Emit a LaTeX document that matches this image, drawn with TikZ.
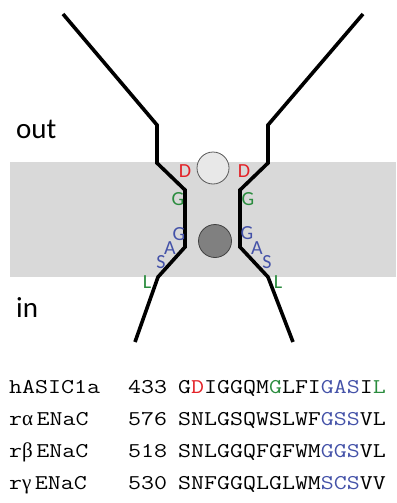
\documentclass[tikz,border=0pt]{standalone}
\usepackage{fontspec}
\setmainfont{Carlito}
\newfontfamily\seqfont[FakeStretch=1.2]{Latin Modern Mono}
\newfontfamily\greekfont{Liberation Serif}
\definecolor{resD}{HTML}{E32228}
\definecolor{resG}{HTML}{2A8C3E}
\definecolor{resB}{HTML}{4452A8}
\definecolor{membrane}{HTML}{D9D9D9}
\tikzset{
  wall/.style={line width=3.6pt, line join=miter},
  res/.style={inner sep=0pt, font=\fontsize{20}{20}\selectfont},
  side/.style={inner sep=0pt, anchor=base west, font=\fontsize{29}{29}\selectfont},
  seq/.style={inner sep=0pt, anchor=base west, font=\seqfont\fontsize{21}{21}\selectfont},
}
\newcommand{\gk}[1]{{\greekfont\fontsize{21}{21}\selectfont #1}}
\begin{document}
\begin{tikzpicture}[x=1pt,y=-1pt]
  \useasboundingbox (0,0) rectangle (396,503);
  % membrane
  \fill[membrane] (10,162) rectangle (396,277);
  % pore walls
  \coordinate (L0) at (63,14);
  \coordinate (L1) at (157,125);
  \coordinate (L2) at (157,163);
  \coordinate (L3) at (185,190);
  \coordinate (L4) at (185,247);
  \coordinate (L5) at (158,277);
  \coordinate (L6) at (135,342);
  \coordinate (R0) at (363,14);
  \coordinate (R1) at (268,125);
  \coordinate (R2) at (268,163);
  \coordinate (R3) at (240,190);
  \coordinate (R4) at (240,247);
  \coordinate (R5) at (268,277);
  \coordinate (R6) at (293,342);
  \draw[wall] (L0) -- (L1) -- (L2) -- (L3) -- (L4) -- (L5) -- (L6);
  \draw[wall] (R0) -- (R1) -- (R2) -- (R3) -- (R4) -- (R5) -- (R6);
  % ions
  \node (ionA) at (213,168) [circle, minimum size=32pt, inner sep=0pt, fill=black!9, draw=black!65, line width=0.8pt] {};
  \node (ionB) at (215,241) [circle, minimum size=33pt, inner sep=0pt, fill=black!50, draw=black!75, line width=0.8pt] {};
  % residues, left wall
  \node[res, text=resD] (lD) at (185,171) {D};
  \node[res, text=resG] (lG1) at (178,199) {G};
  \node[res, text=resB] (lG2) at (179,234) {G};
  \node[res, text=resB] (lA) at (170,248) {A};
  \node[res, text=resB] (lS) at (161,262) {S};
  \node[res, text=resG] (lL) at (147,282) {L};
  % residues, right wall
  \node[res, text=resD] (rD) at (244,171) {D};
  \node[res, text=resG] (rG1) at (248,199) {G};
  \node[res, text=resB] (rG2) at (247,233) {G};
  \node[res, text=resB] (rA) at (257,248) {A};
  \node[res, text=resB] (rS) at (267,262) {S};
  \node[res, text=resG] (rL) at (278,282) {L};
  % sides
  \node[side] (out) at (16,138) {out};
  \node[side] (in) at (16,317) {in};
  % alignment
  \node[seq] (N1) at (9,393) {hASIC1a};
  \node[seq] (P1) at (128,393) {433};
  \node[seq] (S1) at (178,393) {G\textcolor{resD}{D}IGGQM\textcolor{resG}{G}LFI\textcolor{resB}{GAS}I\textcolor{resG}{L}};
  \node[seq] (N2) at (9,425) {r\gk{α}\,ENaC};
  \node[seq] (P2) at (128,425) {576};
  \node[seq] (S2) at (178,425) {SNLGSQWSLWF\textcolor{resB}{GSS}VL};
  \node[seq] (N3) at (9,457) {r\gk{β}\,ENaC};
  \node[seq] (P3) at (128,457) {518};
  \node[seq] (S3) at (178,457) {SNLGGQFGFWM\textcolor{resB}{GGS}VL};
  \node[seq] (N4) at (9,489) {r\gk{γ}\,ENaC};
  \node[seq] (P4) at (128,489) {530};
  \node[seq] (S4) at (178,489) {SNFGGQLGLWM\textcolor{resB}{SCS}VV};
\end{tikzpicture}
\end{document}
